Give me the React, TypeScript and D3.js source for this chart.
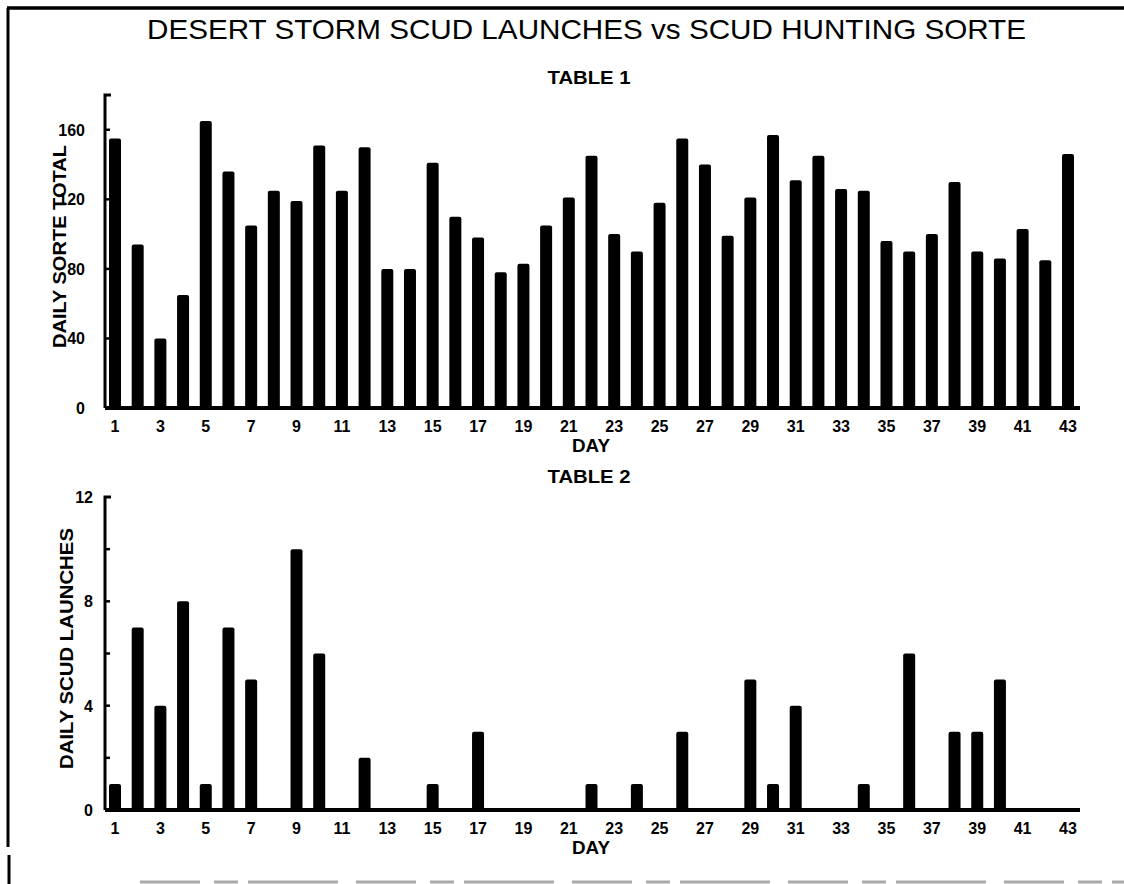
import React from 'react';
import * as d3 from 'd3';

const days = [1,2,3,4,5,6,7,8,9,10,11,12,13,14,15,16,17,18,19,20,21,22,23,24,25,26,27,28,29,30,31,32,33,34,35,36,37,38,39,40,41,42,43];
const sorties = [155,94,40,65,165,136,105,125,119,151,125,150,80,80,141,110,98,78,83,105,121,145,100,90,118,155,140,99,121,157,131,145,126,125,96,90,100,130,90,86,103,85,146];
const scudLaunches = [1,7,4,8,1,7,5,0,10,6,0,2,0,0,1,0,3,0,0,0,0,1,0,1,0,3,0,0,5,1,4,0,0,1,0,6,0,3,3,5,0,0,0];
const dayLabels = [1,3,5,7,9,11,13,15,17,19,21,23,25,27,29,31,33,35,37,39,41,43];
const sortieTicks = [0,40,80,120,160];
const sortieTickMarks = [0,40,80,120,160];
const scudTicks = [0,4,8,12];
const scudTickMarks = [0,2,4,6,8,10];

const W = 1124, H = 884;
const FONT = "'Liberation Sans', Arial, sans-serif";

const x = d3.scaleLinear().domain([1, 43]).range([115, 1068]);
const axisLeft = 105;
const axisRight = 1080;
const barW = 12;

type PanelProps = {
  values: number[];
  y: d3.ScaleLinear<number, number>;
  top: number;
  labels: number[];
  marks: number[];
  yLabel: string;
  yLabelLen: number;
  yLabelX: number;
  tickLabelRight: number;
  table: string;
  tableY: number;
};

function Panel({ values, y, top, labels, marks, yLabel, yLabelLen, yLabelX, tickLabelRight, table, tableY }: PanelProps) {
  const base = y(0);
  const yMid = (y(0) + y(top)) / 2 - 5;
  return (
    <g>
      <text x={589} y={tableY} textAnchor="middle" fontFamily={FONT} fontWeight="bold" fontSize={19} textLength={83} lengthAdjust="spacingAndGlyphs">{table}</text>
      {values.map((v, i) => v > 0 ? (
        <rect key={i} x={x(days[i]) - barW / 2} y={y(v)} width={barW} height={base - y(v)} rx={2} fill="#000" />
      ) : null)}
      {/* y axis with bracket */}
      <path d={`M${axisLeft + 6},${y(top)} H${axisLeft} V${base}`} fill="none" stroke="#000" strokeWidth={3} />
      {marks.map(m => (
        <line key={m} x1={axisLeft} x2={axisLeft + 5} y1={y(m)} y2={y(m)} stroke="#000" strokeWidth={2.5} />
      ))}
      {/* x axis */}
      <line x1={axisLeft} x2={axisRight} y1={base} y2={base} stroke="#000" strokeWidth={4} />
      {labels.map(t => (
        <text key={t} x={tickLabelRight} y={y(t) + 6} textAnchor="end" fontFamily={FONT} fontWeight="bold" fontSize={16}>{t}</text>
      ))}
      {dayLabels.map(d => (
        <text key={d} x={x(d)} y={base + 24} textAnchor="middle" fontFamily={FONT} fontWeight="bold" fontSize={16}>{d}</text>
      ))}
      <text x={591} y={base + 44} textAnchor="middle" fontFamily={FONT} fontWeight="bold" fontSize={18} textLength={38} lengthAdjust="spacingAndGlyphs">DAY</text>
      <text transform={`translate(${yLabelX},${yMid}) rotate(-90)`} textAnchor="middle" fontFamily={FONT} fontWeight="bold" fontSize={19} textLength={yLabelLen} lengthAdjust="spacingAndGlyphs">{yLabel}</text>
    </g>
  );
}

export default function App() {
  const yTop = d3.scaleLinear().domain([0, 180]).range([408, 95]);
  const yBot = d3.scaleLinear().domain([0, 12]).range([810, 497]);
  return (
    <svg width={W} height={H} style={{ position: 'absolute', left: 0, top: 0, background: '#fff' }}>
      <rect x={0} y={0} width={W} height={H} fill="#fff" />
      {/* frame */}
      <line x1={7} x2={W} y1={8} y2={8} stroke="#000" strokeWidth={3.5} />
      <line x1={8} x2={8} y1={8} y2={847} stroke="#000" strokeWidth={3} />
      <line x1={9} x2={9} y1={855} y2={H} stroke="#000" strokeWidth={3} />
      <line x1={140} x2={W} y1={882} y2={882} stroke="#aaa" strokeWidth={3} strokeDasharray="60 14 24 10 90 18" />
      <text x={147} y={39} fontFamily={FONT} fontSize={28} textLength={879} lengthAdjust="spacingAndGlyphs">DESERT STORM SCUD LAUNCHES vs SCUD HUNTING SORTE</text>
      <Panel values={sorties} y={yTop} top={180} labels={sortieTicks} marks={sortieTickMarks}
        yLabel="DAILY SORTE TOTAL" yLabelLen={203} yLabelX={66} tickLabelRight={85}
        table="TABLE 1" tableY={84} />
      <Panel values={scudLaunches} y={yBot} top={12} labels={scudTicks} marks={scudTickMarks}
        yLabel="DAILY SCUD LAUNCHES" yLabelLen={241} yLabelX={73} tickLabelRight={93}
        table="TABLE 2" tableY={483} />
    </svg>
  );
}
